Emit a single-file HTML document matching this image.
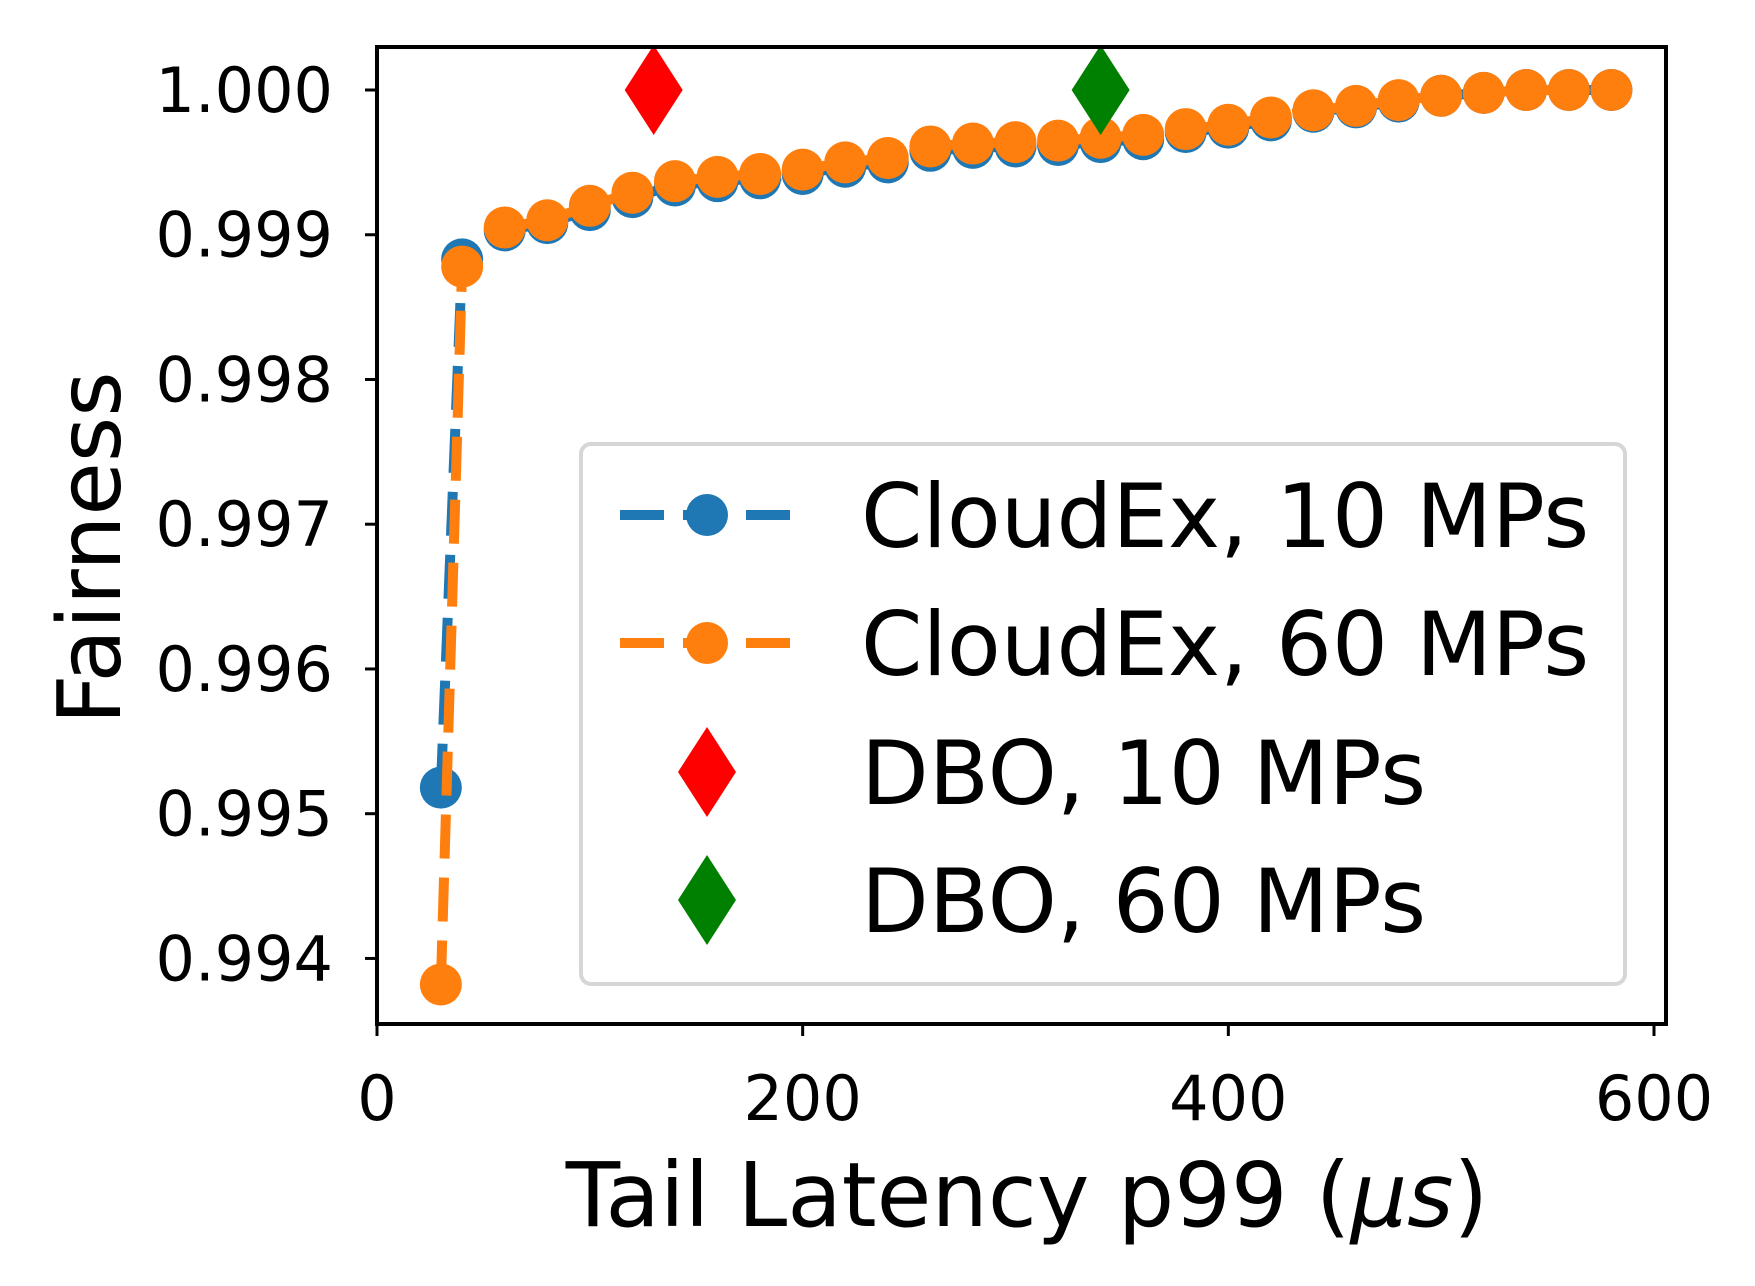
<!DOCTYPE html>
<html><head><meta charset="utf-8"><style>
html,body{margin:0;padding:0;background:#fff;}
svg{display:block;font-family:"DejaVu Sans","Liberation Sans",sans-serif;}
</style></head><body>
<svg id="chart" width="1755" height="1286" viewBox="0 0 1755 1286">
<g id="plot"></g>
<g id="axes"></g>
<g id="legend"></g>
</svg>
<script>
const xs10 = [30,40,60,80,100,120,140,160,180,200,220,240,260,280,300,320,340,360,380,400,420,440,460,480,500,520,540,560,580];
const fair10 = [0.99518,0.99883,0.99903,0.99908,0.99917,0.99926,0.99934,0.99937,0.99939,0.99942,0.99947,0.99950,0.99958,0.99960,0.99961,0.99962,0.99964,0.99966,0.99971,0.99974,0.99979,0.99985,0.99988,0.99992,0.99996,0.99998,1.0,1.0,1.0];
const xs60 = [30,40,60,80,100,120,140,160,180,200,220,240,260,280,300,320,340,360,380,400,420,440,460,480,500,520,540,560,580];
const fair60 = [0.99382,0.99878,0.99905,0.99910,0.99920,0.99929,0.99937,0.99940,0.99942,0.99945,0.99950,0.99953,0.99961,0.99963,0.99964,0.99965,0.99967,0.99969,0.99973,0.99976,0.99981,0.99986,0.99989,0.99993,0.99996,0.99998,1.0,1.0,1.0];
const dboX = [130,340];
const dboY = [1.0,1.0];
const xTicks = [0,200,400,600];
const yTicks = [0.994,0.995,0.996,0.997,0.998,0.999,1.000];
const legendLabels = ["CloudEx, 10 MPs","CloudEx, 60 MPs","DBO, 10 MPs","DBO, 60 MPs"];

const NS="http://www.w3.org/2000/svg";
const L=377,R=1666,T=47,B=1024;
function sx(v){return 377+v*(1277/600);}
function sy(v){return 90+(1.0-v)*144740;}
function mk(tag,attrs,parent){const e=document.createElementNS(NS,tag);for(const k in attrs)e.setAttribute(k,attrs[k]);parent.appendChild(e);return e;}
const plot=document.getElementById('plot'),axes=document.getElementById('axes'),leg=document.getElementById('legend');
function diamond(cx,cy){return `${cx},${cy-45} ${cx+29},${cy} ${cx},${cy+45} ${cx-29},${cy}`;}

function series(xv,yv,color,name){
  const pts=xv.map((x,i)=>sx(x)+','+sy(yv[i])).join(' ');
  const pl=mk('polyline',{points:pts,fill:'none',stroke:color,'stroke-width':10,'stroke-dasharray':'44 19'},plot);
  
  
  xv.forEach((x,i)=>{
    const c=mk('circle',{cx:sx(x),cy:sy(yv[i]),r:21,fill:color},plot);
    
    
  });
}
series(xs10,fair10,'#1f77b4','cloudex-10');
series(xs60,fair60,'#ff7f0e','cloudex-60');
const dboColors=['#ff0000','#008000'];
dboX.forEach((x,i)=>{
  const p=mk('polygon',{points:diamond(sx(x),sy(dboY[i])),fill:dboColors[i]},plot);
  
  
});

const fr=mk('rect',{x:L,y:T,width:R-L,height:B-T,fill:'none',stroke:'#000','stroke-width':4},axes);


xTicks.forEach(v=>{
  const x=sx(v);
  const t=mk('line',{x1:x,y1:B,x2:x,y2:B+12,stroke:'#000','stroke-width':3},axes);
  
  
  const tx=mk('text',{x:x,y:1120,'text-anchor':'middle','font-size':62},axes);
  tx.textContent=String(v);
  
  
});
yTicks.forEach(v=>{
  const y=sy(v);
  const t=mk('line',{x1:L-12,y1:y,x2:L,y2:y,stroke:'#000','stroke-width':3},axes);
  
  
  const tx=mk('text',{x:333,y:y+22,'text-anchor':'end','font-size':62},axes);
  tx.textContent=v.toFixed(3);
  
  
});
const xl=mk('text',{x:1027,y:1226,'text-anchor':'middle','font-size':89},axes);
xl.innerHTML='Tail Latency p99 (<tspan font-style="italic">μs</tspan>)';


const yl=mk('text',{x:0,y:0,'text-anchor':'middle','font-size':87,transform:'translate(120,548) rotate(-90)'},axes);
yl.textContent='Fairness';



const lb=mk('rect',{x:581,y:444,width:1044,height:540,rx:10,fill:'#fff','fill-opacity':0.8,stroke:'#d6d6d6','stroke-width':4},leg);


const rowsY=[515,643,772,900];
const lc=['#1f77b4','#ff7f0e'];
legendLabels.forEach((lab,i)=>{
  const y=rowsY[i];
  const g=mk('g',{},leg);
  
  
  if(i<2){
    mk('line',{x1:620,y1:y,x2:795,y2:y,stroke:lc[i],'stroke-width':10,'stroke-dasharray':'44 19'},g);
    mk('circle',{cx:707,cy:y,r:21,fill:lc[i]},g);
  } else {
    mk('polygon',{points:diamond(707,y),fill:dboColors[i-2]},g);
  }
  const t=mk('text',{x:861,y:y+32,'font-size':88},g);
  t.textContent=lab;
});
</script>
</body></html>
